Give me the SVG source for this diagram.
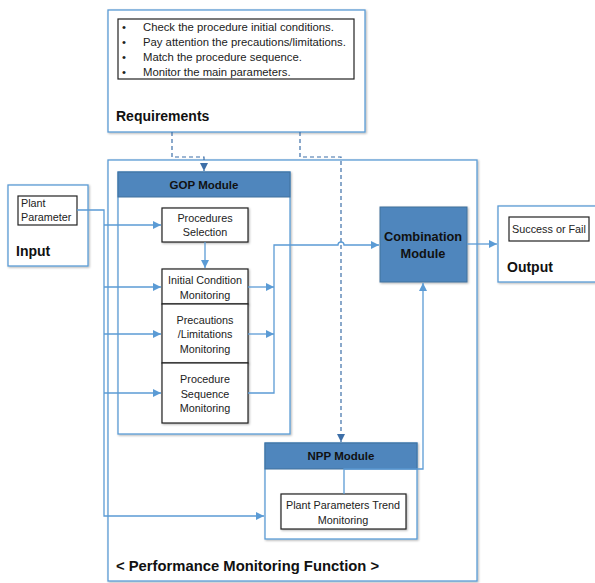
<svg xmlns="http://www.w3.org/2000/svg" width="595" height="583" viewBox="0 0 595 583">
<defs>
<style>
.frame{fill:#fff;stroke:#5b9bd5;stroke-width:1.3}
.inner{fill:#fff;stroke:#222;stroke-width:1.2}
.hdr{fill:#4f86bd;stroke:#41719c;stroke-width:1}
.conn{fill:none;stroke:#5b9bd5;stroke-width:1.3}
.dash{fill:none;stroke:#3d6fa8;stroke-width:1.2;stroke-dasharray:4 3}
.t{font-family:"Liberation Sans",Arial,sans-serif;font-size:10.8px;fill:#222}
.bl{font-family:"Liberation Sans",Arial,sans-serif;font-size:11.3px;fill:#222}
.tc{font-family:"Liberation Sans",Arial,sans-serif;font-size:10.8px;fill:#222;text-anchor:middle}
.b{font-family:"Liberation Sans",Arial,sans-serif;font-weight:bold;font-size:14px;fill:#111}
.hb{font-family:"Liberation Sans",Arial,sans-serif;font-weight:bold;font-size:11.5px;fill:#111;text-anchor:middle}
</style>
<marker id="a" viewBox="0 0 10 10" refX="10" refY="5" markerWidth="8" markerHeight="8" markerUnits="userSpaceOnUse" orient="auto"><path d="M0,0 L10,5 L0,10 z" fill="#5b9bd5"/></marker>
<marker id="ad" viewBox="0 0 10 10" refX="10" refY="5" markerWidth="8" markerHeight="8" markerUnits="userSpaceOnUse" orient="auto"><path d="M0,0 L10,5 L0,10 z" fill="#3d6fa8"/></marker>
<filter id="sh" x="-10%" y="-10%" width="130%" height="130%"><feDropShadow dx="1" dy="1" stdDeviation="0.8" flood-color="#000" flood-opacity="0.3"/></filter>
</defs>

<g id="requirements">
<rect class="frame" x="108" y="10" width="257" height="122" filter="url(#sh)"/>
<rect class="inner" x="118" y="19" width="236" height="60"/>
<text class="bl" x="122" y="31">•</text><text class="bl" x="143" y="31">Check the procedure initial conditions.</text>
<text class="bl" x="122" y="46">•</text><text class="bl" x="143" y="46">Pay attention the precautions/limitations.</text>
<text class="bl" x="122" y="61">•</text><text class="bl" x="143" y="61">Match the procedure sequence.</text>
<text class="bl" x="122" y="76">•</text><text class="bl" x="143" y="76">Monitor the main parameters.</text>
<text class="b" x="116" y="121">Requirements</text>
</g>

<g id="performance">
<rect class="frame" x="108" y="160" width="369" height="421" filter="url(#sh)"/>
<text class="b" x="116" y="571" style="font-size:14.8px">&lt; Performance Monitoring Function &gt;</text>
</g>

<g id="input">
<rect class="frame" x="8" y="185" width="80" height="81" filter="url(#sh)"/>
<rect class="inner" x="18" y="196" width="59" height="29"/>
<text class="t" x="21" y="207">Plant</text>
<text class="t" x="21" y="221">Parameter</text>
<text class="b" x="16" y="256">Input</text>
</g>

<g id="gop">
<rect class="frame" x="118" y="172" width="172" height="262" filter="url(#sh)"/>
<rect class="hdr" x="118" y="172" width="172" height="25"/>
<text class="hb" x="204" y="189">GOP Module</text>
</g>

<g id="procsel">
<rect class="inner" x="162" y="208" width="86" height="34" filter="url(#sh)"/>
<text class="tc" x="205" y="222">Procedures</text>
<text class="tc" x="205" y="236">Selection</text>
</g>

<g id="initcond">
<rect class="inner" x="162" y="269" width="86" height="35" filter="url(#sh)"/>
<text class="tc" x="205" y="284">Initial Condition</text>
<text class="tc" x="205" y="299">Monitoring</text>
</g>

<g id="precautions">
<rect class="inner" x="162" y="304" width="86" height="59" filter="url(#sh)"/>
<text class="tc" x="205" y="324">Precautions</text>
<text class="tc" x="205" y="338">/Limitations</text>
<text class="tc" x="205" y="353">Monitoring</text>
</g>

<g id="procseq">
<rect class="inner" x="162" y="363" width="86" height="60" filter="url(#sh)"/>
<text class="tc" x="205" y="383">Procedure</text>
<text class="tc" x="205" y="398">Sequence</text>
<text class="tc" x="205" y="412">Monitoring</text>
</g>

<g id="combination">
<rect class="hdr" x="380" y="207" width="87" height="75" filter="url(#sh)"/>
<text class="hb" x="423" y="241" style="font-size:12.8px">Combination</text>
<text class="hb" x="423" y="258" style="font-size:12.8px">Module</text>
</g>

<g id="output">
<rect class="frame" x="498" y="206" width="104" height="76" filter="url(#sh)"/>
<rect class="inner" x="509" y="217" width="80" height="24"/>
<text class="tc" x="549" y="233">Success or Fail</text>
<text class="b" x="507" y="272">Output</text>
</g>

<g id="npp">
<rect class="frame" x="265" y="443" width="152" height="96" filter="url(#sh)"/>
<rect class="hdr" x="265" y="443" width="152" height="26"/>
<text class="hb" x="341" y="460">NPP Module</text>
</g>

<g id="trend">
<rect class="inner" x="281" y="494" width="125" height="35" filter="url(#sh)"/>
<text class="tc" x="343" y="509">Plant Parameters Trend</text>
<text class="tc" x="343" y="524">Monitoring</text>
</g>

<g id="connectors">
<path class="dash" d="M172,132 V157 H204 V171" marker-end="url(#ad)"/>
<path class="dash" d="M300,132 V157 H341 V442" marker-end="url(#ad)"/>
<path class="conn" d="M77,210 H104 V516 H264" marker-end="url(#a)"/>
<path class="conn" d="M104,225 H161" marker-end="url(#a)"/>
<path class="conn" d="M104,287 H161" marker-end="url(#a)"/>
<path class="conn" d="M104,334 H161" marker-end="url(#a)"/>
<path class="conn" d="M104,393 H161" marker-end="url(#a)"/>
<path class="conn" d="M205,242 V268" marker-end="url(#a)"/>
<path class="conn" d="M248,287 H274" marker-end="url(#a)"/>
<path class="conn" d="M248,334 H274" marker-end="url(#a)"/>
<path class="conn" d="M248,393 H274 V245 H338 A3,3 0 0 1 344,245 H379" marker-end="url(#a)"/>
<path class="conn" d="M467,244 H497" marker-end="url(#a)"/>
<path class="conn" d="M344,494 V469 H423 V283" marker-end="url(#a)"/>
</g>
</svg>
